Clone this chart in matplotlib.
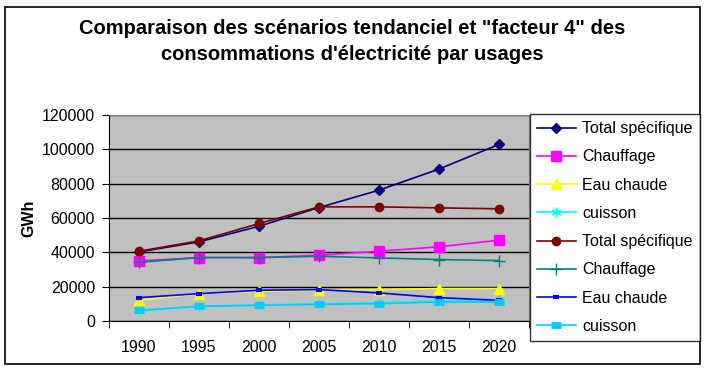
import matplotlib
matplotlib.use('Agg')
import matplotlib.pyplot as plt
import numpy as np
from matplotlib.patches import Rectangle

plt.rcParams['font.family'] = ['Liberation Sans', 'DejaVu Sans']

years = ['1990', '1995', '2000', '2005', '2010', '2015', '2020']

# scenario tendanciel
tend_total = [40250, 46100, 55200, 66100, 76200, 88500, 102900]
tend_chauffage = [35000, 36950, 36950, 38300, 40650, 43200, 47100]
tend_eau = [12050, 15950, 17300, 17900, 18300, 18900, 18900]
tend_cuisson = [5850, 8550, 9500, 10100, 10700, 11700, 12050]
# scenario facteur 4
f4_total = [40650, 46700, 56800, 66500, 66500, 65900, 65350]
f4_chauffage = [34200, 36950, 36950, 37700, 36750, 35800, 35200]
f4_eau = [13600, 15950, 17900, 18300, 16350, 13600, 12050]
f4_cuisson = [6200, 8550, 9150, 9700, 10100, 11100, 11100]

labels = ['Total spécifique', 'Chauffage', 'Eau chaude', 'cuisson',
          'Total spécifique', 'Chauffage', 'Eau chaude', 'cuisson']
series = [tend_total, tend_chauffage, tend_eau, tend_cuisson,
          f4_total, f4_chauffage, f4_eau, f4_cuisson]
colors = ['#000080', '#FF00FF', '#FFFF00', '#00FFFF',
          '#800000', '#008080', '#0000FF', '#00CCFF']
markers = ['D', 's', '^', (6, 2, 0), 'o', '+', '_', '_']
msizes = [5, 7, 7, 7, 6, 8, 5, 7]
mews = [1, 1, 1, 1, 1, 1, 3, 5]

W, H = 704, 370
fig = plt.figure(figsize=(W / 100, H / 100), dpi=100)
fig.patches.append(Rectangle((5 / W, 1 - 364 / H), 695 / W, 357 / H,
                             transform=fig.transFigure, fill=False,
                             edgecolor='black', lw=1.2))

ax = fig.add_axes([109 / W, 1 - 321 / H, 420 / W, 206 / H])
ax.set_facecolor('#C0C0C0')
x = np.arange(len(years))
lines = []
for s, c, m, ms, mw, lab in zip(series, colors, markers, msizes, mews, labels):
    l, = ax.plot(x, s, color=c, marker=m, ms=ms, mew=mw, mec=c, mfc=c,
                 lw=1.2, label=lab, clip_on=False)
    lines.append(l)

ax.set_xlim(-0.5, 6.5)
ax.set_ylim(0, 120000)
ax.set_yticks(np.arange(0, 120001, 20000))
ax.yaxis.grid(True, color='black', lw=1)
ax.set_axisbelow(True)
ax.set_xticks(x)
ax.set_xticklabels(years, fontsize=11.5)
ax.set_xticks(np.arange(-0.5, 7, 1), minor=True)
ax.tick_params(axis='x', which='major', length=0, pad=14)
ax.tick_params(axis='x', which='minor', length=5, direction='out')
ax.tick_params(axis='y', length=5, direction='out', labelsize=11.5, pad=5)
for sp in ['top', 'right']:
    ax.spines[sp].set_color('#808080')
ax.set_ylabel('GWh', fontsize=11.5, fontweight='bold', labelpad=4)

fig.text(352 / W, 1 - 28 / H, 'Comparaison des scénarios tendanciel et "facteur 4" des',
         ha='center', va='center', fontsize=14.5, fontweight='bold')
fig.text(352 / W, 1 - 55 / H, "consommations d'électricité par usages",
         ha='center', va='center', fontsize=14.5, fontweight='bold')

leg = fig.legend(handles=lines, loc='upper left',
                 bbox_to_anchor=(530 / W, 1 - 114 / H), frameon=True,
                 fancybox=False, edgecolor='black', fontsize=11.5,
                 handlelength=2.4, labelspacing=0.83, borderpad=0.45,
                 handletextpad=0.4, borderaxespad=0)
leg.get_frame().set_linewidth(1)

fig.savefig('out.png', dpi=100)
